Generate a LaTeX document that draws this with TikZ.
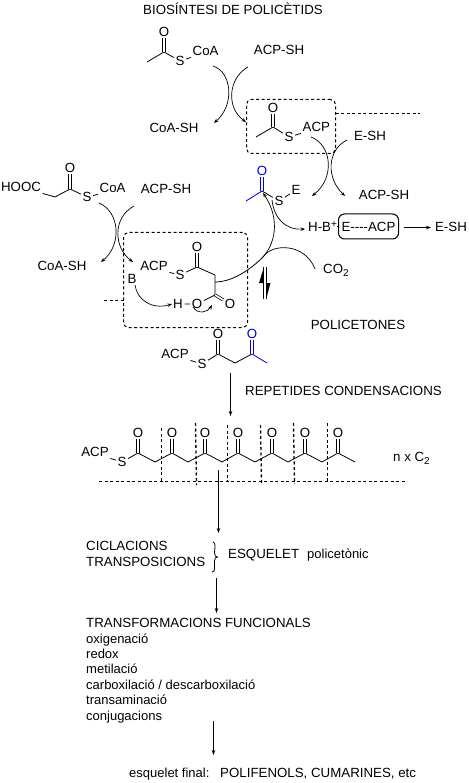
\documentclass[tikz,border=0pt]{standalone}
\usepackage{fontspec}
\setmainfont{Liberation Sans}
\usetikzlibrary{arrows.meta}
\newcommand{\upsm}[1]{\raisebox{4pt}{\fontsize{10}{10}\selectfont #1}}
\newcommand{\dnsm}[1]{\raisebox{-3pt}{\fontsize{10}{10}\selectfont #1}}
\definecolor{chemblue}{RGB}{0,0,230}
\tikzset{
  txt/.style={font=\fontsize{13}{13}\selectfont,inner sep=0pt,anchor=base west},
  captxt/.style={font=\fontsize{13.3}{13}\selectfont,inner sep=0pt,anchor=base west},
  atom/.style={font=\fontsize{13.3}{13}\selectfont,inner sep=1.5pt},
  batom/.style={atom,text=chemblue},
  bond/.style={line width=0.8pt},
  blubond/.style={bond,draw=chemblue},
  dbond/.style={line width=0.7pt,double,double distance=1.7pt},
  curly/.style={line width=0.7pt,-{Stealth[length=4.5pt,width=3.5pt]}},
  longarrow/.style={line width=0.9pt,-{Stealth[length=5pt,width=3.5pt]}},
  dashline/.style={line width=1pt,dash pattern=on 3pt off 2.5pt},
  dashbox/.style={draw,line width=1pt,dash pattern=on 3pt off 2.5pt,rounded corners=5pt,inner sep=0pt},
}
\begin{document}
\begin{tikzpicture}[x=1pt,y=-1pt]
\useasboundingbox (0,0) rectangle (468,783);
% title
\node[captxt] (title) at (143,14.7) {BIOSÍNTESI DE POLICÈTIDS};

% acetyl-CoA
\coordinate (a0) at (147,62); \coordinate (a1) at (164,52);
\node[atom] (aO) at (164,32) {O};
\node[atom] (aS) at (180,61) {S};
\node[atom,anchor=west] (aCoA) at (191,51) {CoA};
\draw[bond] (a0) -- (a1) -- (aS) -- (aCoA.south west);
\draw[dbond] (a1) -- (aO);
\node[atom] (acp1) at (279,50) {ACP-SH};
\node[atom] (coash1) at (174,128) {CoA-SH};

% first crossing arrows
\coordinate (f1) at (213,66); \coordinate (f1e) at (214,123);
\coordinate (f2) at (248,67); \coordinate (f2e) at (246,122);
\draw[curly] (f1) .. controls (232,72) and (235,105) .. (f1e);
\draw[curly] (f2) .. controls (228,78) and (226,108) .. (f2e);

% dashed box 1
\node[dashbox,minimum width=89pt,minimum height=54pt] (box1) at (291,126.5) {};
\coordinate (box1r) at (335.5,113.5); \coordinate (box1d) at (420,113.5);
\draw[dashline] (box1r) -- (box1d);
\coordinate (b0) at (256,137); \coordinate (b1) at (273,127);
\node[atom] (bO) at (273,108) {O};
\node[atom] (bS) at (289,137) {S};
\node[atom,anchor=west] (bACP) at (301,127) {ACP};
\draw[bond] (b0) -- (b1) -- (bS) -- (bACP.south west);
\draw[dbond] (b1) -- (bO);
\node[atom] (esh1) at (370,136) {E-SH};
\node[atom] (acp2) at (384,195) {ACP-SH};

% second crossing arrows
\coordinate (g1) at (311,137); \coordinate (g1e) at (312,196);
\coordinate (g2) at (347,140); \coordinate (g2e) at (345,196);
\draw[curly] (g1) .. controls (332,145) and (335,178) .. (g1e);
\draw[curly] (g2) .. controls (327,150) and (326,178) .. (g2e);

% blue acyl thioester
\coordinate (c0) at (246,201); \coordinate (c1) at (262,191);
\node[batom] (cO) at (262,171) {O};
\node[atom] (cS) at (279,201) {S};
\node[atom] (cE) at (296,190) {E};
\draw[blubond] (c0) -- (c1);
\draw[dbond,draw=chemblue] (c1) -- (cO);
\draw[bond] (c1) -- (cS) -- (cE);

% H-B+ and enzyme
\node[captxt] (hb) at (308,231.7) {H-B\upsm{+}};
\node[draw,line width=1pt,rounded corners=6pt,minimum width=60pt,minimum height=25pt,inner sep=0pt,font=\fontsize{13.3}{13}\selectfont] (ebox) at (368.5,226.5) {E{-}{-}{-}{-}ACP};
\draw[bond] (hb.east |- ebox.west) -- (ebox.west);
\coordinate (h1) at (272,200);
\coordinate (h1e) at (305,229);
\draw[curly] (h1) .. controls (274,218) and (285,230) .. (h1e);
\node[atom] (esh2) at (451,226.5) {E-SH};
\coordinate (eboxr) at (404,227.5);
\coordinate (esh2l) at (431,227.5);
\draw[longarrow] (eboxr) -- (esh2l);

% malonyl-CoA
\node[atom] (mH) at (21,187) {HOOC};
\coordinate (m1) at (55,197); \coordinate (m2) at (70,189);
\node[atom] (mO) at (70,168) {O};
\node[atom] (mS) at (87,197) {S};
\node[atom,anchor=west] (mCoA) at (98,188) {CoA};
\draw[bond] (mH.south east) -- (m1) -- (m2) -- (mS) -- (mCoA.south west);
\draw[dbond] (m2) -- (mO);
\node[atom] (acp3) at (166,189) {ACP-SH};
\node[atom] (coash2) at (62,266) {CoA-SH};
\coordinate (k1) at (99,203); \coordinate (k1e) at (101,262);
\coordinate (k2) at (134,206); \coordinate (k2e) at (133,262);
\draw[curly] (k1) .. controls (120,212) and (122,245) .. (k1e);
\draw[curly] (k2) .. controls (112,218) and (114,248) .. (k2e);

% dashed box 2
\node[dashbox,minimum width=124pt,minimum height=95pt] (box2) at (185.5,280) {};
\coordinate (stub) at (104,300.5); \coordinate (box2l) at (123.5,300.5);
\draw[dashline] (stub) -- (box2l);
\node[atom] (nB) at (132,279) {B};
\node[atom] (nACP) at (154,266) {ACP};
\node[atom] (nS) at (180,275) {S};
\coordinate (n1) at (197,267);
\node[atom] (nO) at (197,247) {O};
\coordinate (n2) at (215,275); \coordinate (n3) at (215,295);
\node[atom] (nO2) at (230,304) {O};
\node[atom] (nO3) at (197,304) {O};
\node[atom] (nH) at (178,304) {H};
\draw[bond] (nACP.south east) -- (nS) -- (n1) -- (n2) -- (n3);
\draw[dbond] (n1) -- (nO);
\draw[dbond] (n3) -- (nO2);
\draw[bond] (n3) -- (nO3) -- (nH);
\coordinate (r1) at (135,285); \coordinate (r1e) at (172,304);
\draw[curly] (r1) .. controls (137,300) and (152,310) .. (r1e);
\coordinate (r2) at (193,307); \coordinate (r2e) at (212,305);
\draw[curly] (r2) .. controls (198,315) and (208,312) .. (r2e);

% decarboxylation attack curve
\coordinate (s1) at (215,282); \coordinate (s2) at (263,257); \coordinate (s3) at (263,193);
\draw[line width=0.8pt] (s1) .. controls (232,282) and (250,270) .. (s2);
\draw[curly] (s2) .. controls (278,240) and (278,215) .. (s3);
% CO2
\node[captxt] (co2) at (323,273) {CO\dnsm{2}};
\coordinate (co2l) at (315,269);
\draw[line width=0.7pt] (s2) .. controls (272,243) and (305,243) .. (co2l);

% equilibrium harpoons
\coordinate (e1a) at (263.5,299); \coordinate (e1b) at (263.5,267);
\coordinate (e2a) at (266.5,267); \coordinate (e2b) at (266.5,299);
\draw[line width=1pt] (e1a) -- (e1b);
\draw[line width=1pt] (e2a) -- (e2b);
\fill (263,270) -- (259,283) -- (263,283) -- cycle;
\fill (267,296) -- (270.5,283) -- (267,283) -- cycle;

\node[atom] (poli) at (358,325) {POLICETONES};

% acetoacetyl-ACP
\node[atom] (pACP) at (175,354) {ACP};
\node[atom] (pS) at (202,364) {S};
\coordinate (p1) at (218,354); \coordinate (p2) at (235,363); \coordinate (p3) at (252,354); \coordinate (p4) at (267,363);
\node[atom] (pO1) at (218,334) {O};
\node[batom] (pO2) at (252,334) {O};
\draw[bond] (pACP.south east) -- (pS) -- (p1) -- (p2) -- (p3);
\draw[dbond] (p1) -- (pO1);
\draw[dbond,draw=chemblue] (p3) -- (pO2);
\draw[blubond] (p3) -- (p4);

% arrow to chain
\coordinate (ar1) at (230.5,373); \coordinate (ar1e) at (230.5,416);
\draw[longarrow] (ar1) -- (ar1e);
\node[captxt] (rep) at (245,395.7) {REPETIDES CONDENSACIONS};

% polyketide chain
\node[atom] (qACP) at (95,452) {ACP};
\node[atom] (qS) at (122,462) {S};
\coordinate (q1) at (138,453); \coordinate (q2) at (155,462);
\coordinate (q3) at (172,453); \coordinate (q4) at (188,462);
\coordinate (q5) at (205,453); \coordinate (q6) at (222,462);
\coordinate (q7) at (238,453); \coordinate (q8) at (255,462);
\coordinate (q9) at (272,453); \coordinate (q10) at (288,462);
\coordinate (q11) at (305,453); \coordinate (q12) at (322,462);
\coordinate (q13) at (338,453); \coordinate (q14) at (355,462);
\node[atom] (qO1) at (138,433) {O};
\node[atom] (qO2) at (172,433) {O};
\node[atom] (qO3) at (205,433) {O};
\node[atom] (qO4) at (238,433) {O};
\node[atom] (qO5) at (272,433) {O};
\node[atom] (qO6) at (305,433) {O};
\node[atom] (qO7) at (338,433) {O};
\draw[bond] (qACP.south east) -- (qS) -- (q1) -- (q2) -- (q3) -- (q4) -- (q5) -- (q6) -- (q7) -- (q8) -- (q9) -- (q10) -- (q11) -- (q12) -- (q13) -- (q14);
\draw[dbond] (q1) -- (qO1);
\draw[dbond] (q3) -- (qO2);
\draw[dbond] (q5) -- (qO3);
\draw[dbond] (q7) -- (qO4);
\draw[dbond] (q9) -- (qO5);
\draw[dbond] (q11) -- (qO6);
\draw[dbond] (q13) -- (qO7);
\node[captxt] (nxc) at (393,461) {n x C\dnsm{2}};

% dashed cuts
\coordinate (hl) at (99,481.5); \coordinate (hr) at (407,481.5);
\draw[dashline] (hl) -- (hr);
\coordinate (v1a) at (161.5,428); \coordinate (v1b) at (161.5,483);
\coordinate (v2a) at (195.5,423); \coordinate (v2b) at (196.5,485);
\coordinate (v3a) at (227.5,425); \coordinate (v3b) at (227.5,482);
\coordinate (v4a) at (260.5,425); \coordinate (v4b) at (261.5,483);
\coordinate (v5a) at (293.5,423); \coordinate (v5b) at (294.5,484);
\coordinate (v6a) at (327.5,423); \coordinate (v6b) at (327.5,482);
\draw[dashline] (v1a) -- (v1b);
\draw[dashline,line width=1.3pt] (v2a) -- (v2b);
\draw[dashline] (v3a) -- (v3b);
\draw[dashline,line width=1.3pt] (v4a) -- (v4b);
\draw[dashline,line width=1.3pt] (v5a) -- (v5b);
\draw[dashline] (v6a) -- (v6b);

% lower flow
\coordinate (ar2) at (218.5,470); \coordinate (ar2e) at (218.5,533);
\draw[longarrow] (ar2) -- (ar2e);
\node[captxt] (cic) at (86,550.7) {CICLACIONS};
\node[captxt] (tra) at (86,566.7) {TRANSPOSICIONS};
\coordinate (br1) at (213,542); \coordinate (br2) at (212,572); \coordinate (brm) at (217.5,557);
\draw[line width=0.8pt] (br1) .. controls (215,542.5) and (215,544) .. (215,547) -- (214.5,553) .. controls (214.5,556) and (216,557) .. (brm) .. controls (216,557) and (214.5,558) .. (214.5,561) -- (214.5,567) .. controls (214.5,571) and (214,572) .. (br2);
\node[captxt] (esq) at (228,558.7) {ESQUELET};
\node[txt] (pol) at (307,558.7) {policetònic};
\coordinate (ar3) at (216.5,578); \coordinate (ar3e) at (216.5,613);
\draw[longarrow] (ar3) -- (ar3e);
\node[captxt] (tf) at (86,627.7) {TRANSFORMACIONS FUNCIONALS};
\node[txt] (l1) at (86,643) {oxigenació};
\node[txt] (l2) at (86,658.5) {redox};
\node[txt] (l3) at (86,673.5) {metilació};
\node[txt] (l4) at (86,689) {carboxilació / descarboxilació};
\node[txt] (l5) at (86,704.5) {transaminació};
\node[txt] (l6) at (86,720) {conjugacions};
\coordinate (ar4) at (213.5,721); \coordinate (ar4e) at (213.5,755);
\draw[longarrow] (ar4) -- (ar4e);
\node[txt] (fin) at (129,777.5) {esquelet final:};
\node[captxt] (fin2) at (220,777.5) {POLIFENOLS, CUMARINES, etc};
\end{tikzpicture}
\end{document}
